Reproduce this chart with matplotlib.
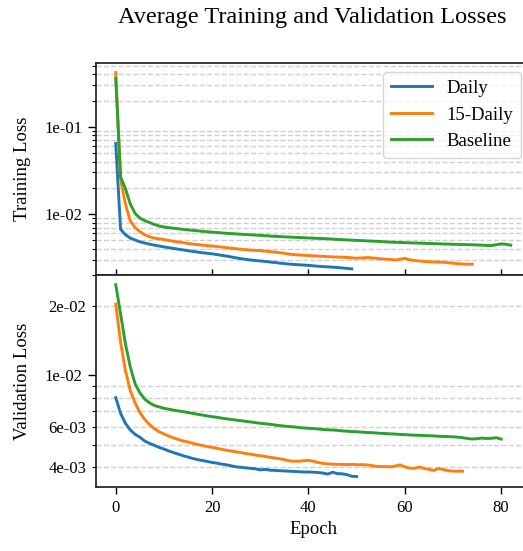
import matplotlib
matplotlib.use("Agg")
import matplotlib.pyplot as plt
from matplotlib.ticker import FuncFormatter, LogLocator, NullFormatter
import numpy as np

plt.rcParams['font.family'] = ['Liberation Serif', 'DejaVu Serif']

series_names = ["Daily", "15-Daily", "Baseline"]
colors = ["#1f77b4", "#ff7f0e", "#2ca02c"]

train_daily = [0.0645, 0.0067, 0.0058, 0.0053, 0.00505, 0.0048, 0.00465, 0.00452, 0.0044, 0.0043,
               0.0042, 0.00412, 0.00403, 0.00395, 0.00388, 0.0038, 0.00373, 0.00366, 0.0036, 0.00355,
               0.0035, 0.00343, 0.00336, 0.0033, 0.00322, 0.00314, 0.00308, 0.00302, 0.00297, 0.00293,
               0.0029, 0.00286, 0.00282, 0.00278, 0.00274, 0.0027, 0.00267, 0.00264, 0.00262, 0.0026,
               0.00258, 0.00255, 0.00252, 0.0025, 0.00248, 0.00246, 0.00244, 0.00241, 0.00238, 0.00235]

train_15daily = [0.42, 0.025, 0.0131, 0.0084, 0.0070, 0.0063, 0.0058, 0.0055, 0.0053, 0.0052,
                 0.0051, 0.00498, 0.00487, 0.00478, 0.00469, 0.0046, 0.00453, 0.00446, 0.0044, 0.00435,
                 0.0043, 0.00424, 0.00418, 0.00412, 0.00406, 0.0040, 0.00395, 0.0039, 0.00386, 0.00383,
                 0.0038, 0.00376, 0.00371, 0.00366, 0.00361, 0.00355, 0.00348, 0.00343, 0.0034, 0.00337,
                 0.00334, 0.00332, 0.0033, 0.00327, 0.00325, 0.00323, 0.00321, 0.0032, 0.00318, 0.00315,
                 0.00312, 0.00314, 0.00317, 0.00315, 0.00311, 0.00307, 0.00304, 0.00302, 0.00297, 0.00303,
                 0.0031, 0.00299, 0.00294, 0.00289, 0.00286, 0.00284, 0.00282, 0.00281, 0.0028, 0.00277,
                 0.00273, 0.0027, 0.00268, 0.00266, 0.00266]

train_baseline = [0.36, 0.0268, 0.0196, 0.0131, 0.0102, 0.0090, 0.0084, 0.0080, 0.0076, 0.0073,
                  0.0071, 0.00698, 0.00687, 0.00677, 0.00667, 0.00658, 0.0065, 0.00642, 0.00634, 0.00627,
                  0.0062, 0.00614, 0.00608, 0.00602, 0.00597, 0.00592, 0.00587, 0.00582, 0.00578, 0.00574,
                  0.0057, 0.00565, 0.0056, 0.00556, 0.00552, 0.00548, 0.00545, 0.00541, 0.00538, 0.00535,
                  0.00532, 0.00529, 0.00526, 0.00523, 0.0052, 0.00516, 0.00512, 0.00509, 0.00505, 0.00502,
                  0.00499, 0.00496, 0.00493, 0.0049, 0.00487, 0.00484, 0.0048, 0.00476, 0.00474, 0.00472,
                  0.0047, 0.00468, 0.00466, 0.00464, 0.00462, 0.0046, 0.00458, 0.00456, 0.00454, 0.00452,
                  0.0045, 0.00449, 0.00447, 0.00446, 0.00444, 0.00442, 0.0044, 0.00437, 0.00435, 0.00445,
                  0.00455, 0.0045, 0.0044]

val_daily = [0.0080, 0.00685, 0.0062, 0.00581, 0.00556, 0.0054, 0.0052, 0.00508, 0.00498, 0.00488,
             0.0048, 0.00471, 0.00463, 0.00456, 0.00449, 0.00443, 0.00437, 0.00432, 0.00428, 0.00424,
             0.0042, 0.00417, 0.00413, 0.0041, 0.00406, 0.00402, 0.0040, 0.00398, 0.00396, 0.00394,
             0.0039, 0.00392, 0.00389, 0.00388, 0.00387, 0.00386, 0.00385, 0.00384, 0.00383, 0.00382,
             0.00382, 0.00381, 0.0038, 0.00378, 0.00374, 0.00381, 0.00376, 0.00375, 0.00372, 0.00366,
             0.00365]

val_15daily = [0.0203, 0.0139, 0.0105, 0.0086, 0.0076, 0.0069, 0.00645, 0.00612, 0.00588, 0.0057,
               0.00558, 0.00546, 0.00536, 0.00528, 0.0052, 0.00515, 0.00508, 0.00502, 0.00497, 0.00492,
               0.00488, 0.00483, 0.00479, 0.00474, 0.0047, 0.00467, 0.00463, 0.00459, 0.00456, 0.00452,
               0.00449, 0.00446, 0.00442, 0.00439, 0.00436, 0.00432, 0.00427, 0.00425, 0.00425, 0.00427,
               0.00429, 0.00425, 0.0042, 0.00416, 0.00414, 0.00413, 0.00412, 0.00412, 0.00411, 0.00412,
               0.00411, 0.00411, 0.0041, 0.00408, 0.00404, 0.00403, 0.00403, 0.00402, 0.00405, 0.0041,
               0.00402, 0.00397, 0.00396, 0.00401, 0.00396, 0.00392, 0.00388, 0.00396, 0.00391, 0.00387,
               0.00385, 0.00385, 0.00385]

val_baseline = [0.0246, 0.0184, 0.0137, 0.0109, 0.0092, 0.0084, 0.0079, 0.0076, 0.0074, 0.0073,
                0.0072, 0.00713, 0.00707, 0.00701, 0.00696, 0.0069, 0.00684, 0.00678, 0.00673, 0.00667,
                0.00662, 0.00658, 0.00653, 0.00648, 0.00644, 0.0064, 0.00636, 0.00632, 0.00628, 0.00624,
                0.0062, 0.00617, 0.00614, 0.0061, 0.00606, 0.00603, 0.006, 0.00598, 0.00595, 0.00592,
                0.0059, 0.00588, 0.00586, 0.00583, 0.00581, 0.0058, 0.00578, 0.00575, 0.00573, 0.00571,
                0.0057, 0.00568, 0.00566, 0.00565, 0.00563, 0.00561, 0.0056, 0.00558, 0.00557, 0.00555,
                0.00554, 0.00552, 0.00551, 0.0055, 0.00549, 0.00548, 0.00547, 0.00545, 0.00544, 0.00543,
                0.00542, 0.0054, 0.00537, 0.00533, 0.0053, 0.00532, 0.00535, 0.00533, 0.00534, 0.00537,
                0.0053]

train_series = [train_daily, train_15daily, train_baseline]
val_series = [val_daily, val_15daily, val_baseline]

x_ticks = [0, 20, 40, 60, 80]

fig = plt.figure(figsize=(5.23, 5.51), dpi=100)
W, H = 523.0, 551.0
left, right = 96.0, 530.5
ax1 = fig.add_axes([left / W, (H - 275) / H, (right - left) / W, (275 - 63) / H])
ax2 = fig.add_axes([left / W, (H - 487) / H, (right - left) / W, (487 - 275) / H], sharex=ax1)

for vals, name, c in zip(train_series, series_names, colors):
    ax1.plot(np.arange(len(vals)), vals, color=c, lw=2.1, label=name)
for vals, name, c in zip(val_series, series_names, colors):
    ax2.plot(np.arange(len(vals)), vals, color=c, lw=2.1, label=name)

ax1.set_yscale('log')
ax2.set_yscale('log')
ax1.set_xlim(-4.1, 86.1)
ax1.set_ylim(2.0e-3, 0.54)
ax2.set_ylim(3.29e-3, 0.0271)
ax2.set_xticks(x_ticks)


def major_fmt(v, pos):
    return f"{v:.0e}"


def minor_fmt(v, pos):
    mant = v / 10 ** np.floor(np.log10(v) + 1e-9)
    if round(mant) in (2, 3, 4, 6) and abs(mant - round(mant)) < 1e-6:
        return f"{v:.0e}"
    return ""


for ax in (ax1, ax2):
    ax.yaxis.set_major_locator(LogLocator(base=10, numticks=10))
    ax.yaxis.set_minor_locator(LogLocator(base=10, subs=np.arange(2, 10), numticks=20))
    ax.yaxis.set_major_formatter(FuncFormatter(major_fmt))
    ax.grid(True, which='minor', axis='y', linestyle='--', color='#d0d0d0', lw=1.0)
    for s in ax.spines.values():
        s.set_linewidth(1.25)
        s.set_color('#222222')
    ax.tick_params(axis='y', which='major', length=6, width=1.0, labelsize=12, pad=4)
    ax.tick_params(axis='y', which='minor', length=3, width=0.8, labelsize=12, pad=4)
    ax.set_axisbelow(True)

ax1.yaxis.set_minor_formatter(NullFormatter())
ax2.yaxis.set_minor_formatter(FuncFormatter(minor_fmt))

ax1.tick_params(axis='x', which='both', direction='in', length=4.5, width=1.0, labelbottom=False)
ax2.tick_params(axis='x', which='major', direction='out', length=5, width=1.0, labelsize=12, pad=4)

ax1.set_ylabel("Training Loss", fontsize=13.5)
ax2.set_ylabel("Validation Loss", fontsize=13.5)
ax2.set_xlabel("Epoch", fontsize=13.5)
ax1.yaxis.set_label_coords(-0.15, 0.5)
ax2.yaxis.set_label_coords(-0.15, 0.5)

leg = ax1.legend(loc='upper right', fontsize=13.5, handlelength=2.2, framealpha=0.8,
                 edgecolor='#cccccc', fancybox=True)

fig.text(312 / W, 1 - 18 / H, "Average Training and Validation Losses",
         ha='center', va='center', fontsize=17.5)

fig.savefig("out.png", dpi=100)
